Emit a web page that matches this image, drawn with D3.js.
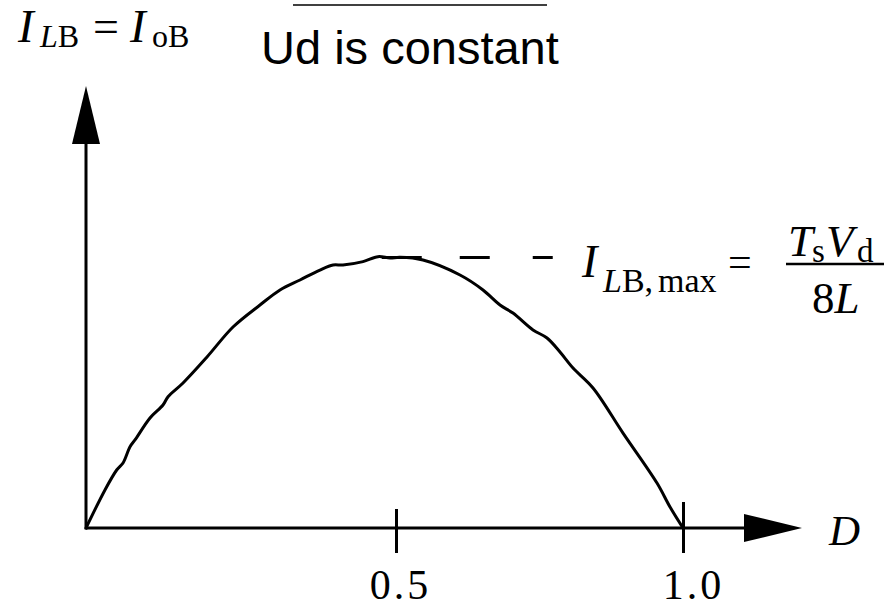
<!DOCTYPE html>
<html>
<head>
<meta charset="utf-8">
<script src="https://cdn.jsdelivr.net/npm/d3@7"></script>
<style>
  html, body { margin: 0; padding: 0; background: #fff; }
  svg { display: block; }
  .serif { font-family: "Liberation Serif", "Times New Roman", serif; fill: #000; }
  .sans { font-family: "Liberation Sans", Arial, sans-serif; fill: #000; }
</style>
</head>
<body>
<svg id="chart" width="895" height="608"></svg>
<script>
// Duty ratio D along the curve of the boundary inductor current
const dutyRatio = [0, 0.0306, 0.0495, 0.0597, 0.0710, 0.0790, 0.1032, 0.1242, 0.1323, 0.1565,
  0.1952, 0.2371, 0.2806, 0.3129, 0.3452, 0.3774, 0.3984, 0.4145, 0.4468, 0.4710, 0.4903,
  0.507, 0.547, 0.6115, 0.6516, 0.6812, 0.7038, 0.7387, 0.7631, 0.7857, 0.8084, 0.8432,
  0.8955, 0.9547, 0.9774, 1.0];
// I_LB in units of Ts*Vd/(2L); the peak is 0.25 at D = 0.5
const boundaryCurrent = [0, 0.0351, 0.0535, 0.0600, 0.0750, 0.0812, 0.1015, 0.1135, 0.1211, 0.1338,
  0.1578, 0.1854, 0.2057, 0.2196, 0.2288, 0.2380, 0.2426, 0.2426, 0.2457, 0.2503, 0.2491,
  0.2497, 0.2472, 0.2334, 0.2196, 0.2057, 0.1983, 0.1827, 0.1753, 0.1624, 0.1476, 0.1292,
  0.0876, 0.0415, 0.0194, 0];
// Tick values on the D axis and their labels
const tickValues = [0.5, 1.0];
const tickLabels = ["0.5", "1.0"];
// Maximum boundary current and the D range of its dashed marker
const peakCurrent = 0.25;
const peakMarkerSpan = [0.477, 0.774];

const svg = d3.select("#chart");
const ink = "#000";

const x = d3.scaleLinear().domain([0, 0.5, 1]).range([86, 396, 683]);
const y = d3.scaleLinear().domain([0, peakCurrent]).range([528, 257]);

const x0 = x(0), y0 = y(0);
const arrowLen = 58, arrowHalf = 14;
const xTip = 802, yTip = 86;

// Axis lines with filled arrowheads
svg.append("line").attr("x1", x0).attr("y1", y0).attr("x2", xTip - arrowLen + 1).attr("y2", y0)
  .attr("stroke", ink).attr("stroke-width", 3);
svg.append("line").attr("x1", x0).attr("y1", y0 + 1.5).attr("x2", x0).attr("y2", yTip + arrowLen - 1)
  .attr("stroke", ink).attr("stroke-width", 3);
svg.append("path")
  .attr("d", `M${xTip},${y0} L${xTip - arrowLen},${y0 - arrowHalf} L${xTip - arrowLen},${y0 + arrowHalf} Z`)
  .attr("fill", ink);
svg.append("path")
  .attr("d", `M${x0},${yTip} L${x0 - arrowHalf},${yTip + arrowLen} L${x0 + arrowHalf},${yTip + arrowLen} Z`)
  .attr("fill", ink);

// D axis ticks and labels
const axis = d3.axisBottom(x)
  .tickValues(tickValues)
  .tickSize(0)
  .tickFormat((d, i) => tickLabels[i]);
const gx = svg.append("g").attr("transform", `translate(0,${y0})`).call(axis);
gx.select(".domain").remove();
gx.selectAll(".tick line")
  .attr("y1", (d) => d === 0.5 ? -19 : -26)
  .attr("y2", 25)
  .attr("stroke", ink).attr("stroke-width", 3);
gx.selectAll(".tick text")
  .attr("class", "serif")
  .attr("y", 71).attr("dy", 0)
  .attr("dx", (d) => d === 0.5 ? 4 : 10)
  .attr("font-size", 42)
  .attr("letter-spacing", 3)
  .attr("fill", ink);

// Boundary current curve
const line = d3.line()
  .x((d, i) => x(dutyRatio[i]))
  .y((d) => y(d))
  .curve(d3.curveCatmullRom.alpha(0.5));
svg.append("path")
  .datum(boundaryCurrent)
  .attr("d", line)
  .attr("fill", "none")
  .attr("stroke", ink)
  .attr("stroke-width", 3)
  .attr("stroke-linejoin", "round")
  .attr("stroke-linecap", "round");

// Dashed marker at the maximum
svg.append("line")
  .attr("x1", x(peakMarkerSpan[0])).attr("x2", x(peakMarkerSpan[1]))
  .attr("y1", y(peakCurrent) + 0.5).attr("y2", y(peakCurrent) + 0.5)
  .attr("stroke", ink).attr("stroke-width", 3)
  .attr("stroke-dasharray", "40,38,30,43,20,100");

// Axis names
const yName = svg.append("text").attr("class", "serif").attr("x", 18).attr("y", 42).attr("font-size", 47);
yName.append("tspan").attr("font-style", "italic").text("I");
yName.append("tspan").attr("x", 40).attr("y", 47).attr("font-size", 32).attr("font-style", "italic").text("L");
yName.append("tspan").attr("font-size", 32).text("B");
yName.append("tspan").attr("x", 93).attr("y", 42).attr("font-size", 46).text("=");
yName.append("tspan").attr("x", 130).attr("font-style", "italic").text("I");
yName.append("tspan").attr("x", 152).attr("y", 47).attr("font-size", 32).text("oB");

svg.append("text").attr("class", "serif")
  .attr("x", 829).attr("y", 545)
  .attr("font-size", 43).attr("font-style", "italic").text("D");

// Maximum current formula
const maxLabel = svg.append("text").attr("class", "serif").attr("x", 582).attr("y", 277).attr("font-size", 46);
maxLabel.append("tspan").attr("font-style", "italic").text("I");
maxLabel.append("tspan").attr("x", 603).attr("y", 292).attr("font-size", 34).attr("font-style", "italic").text("L");
maxLabel.append("tspan").attr("font-size", 34).text("B,");
maxLabel.append("tspan").attr("x", 658).attr("font-size", 34).text("max");
maxLabel.append("tspan").attr("x", 728).attr("y", 276).attr("font-size", 42).text("=");

const num = svg.append("text").attr("class", "serif").attr("x", 788).attr("y", 256).attr("font-size", 45);
num.append("tspan").attr("font-style", "italic").text("T");
num.append("tspan").attr("x", 812).attr("y", 262).attr("font-size", 33).text("s");
num.append("tspan").attr("x", 826).attr("y", 256).attr("font-style", "italic").text("V");
num.append("tspan").attr("x", 857).attr("y", 262).attr("font-size", 33).text("d");

svg.append("line").attr("x1", 786).attr("x2", 884).attr("y1", 264).attr("y2", 264)
  .attr("stroke", ink).attr("stroke-width", 2.5);

const den = svg.append("text").attr("class", "serif").attr("x", 812).attr("y", 313).attr("font-size", 45);
den.append("tspan").text("8");
den.append("tspan").attr("font-style", "italic").text("L");

// Title with overline
svg.append("line").attr("x1", 293).attr("x2", 547).attr("y1", 5).attr("y2", 5)
  .attr("stroke", ink).attr("stroke-width", 1.5);
svg.append("text").attr("class", "sans")
  .attr("x", 261).attr("y", 64).attr("font-size", 47)
  .text("Ud is constant");
</script>
</body>
</html>
